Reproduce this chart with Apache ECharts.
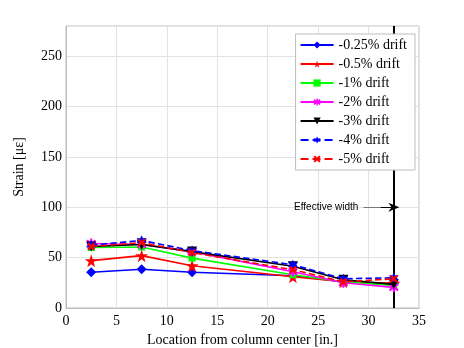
<!DOCTYPE html>
<html><head><meta charset="utf-8">
<script src="https://cdn.jsdelivr.net/npm/echarts@6/dist/echarts.min.js"></script>
<style>html,body{margin:0;padding:0;background:#fff}#c{width:464px;height:348px}</style>
</head><body><div id="c"></div>
<script>
const locations = [2.5, 7.5, 12.5, 22.5, 27.5, 32.5];
const drift025 = [35.5, 38.5, 35.5, 32, 26, 24];
const drift05 = [47, 52, 42, 31, 26, 24.5];
const drift1 = [60, 60.5, 49.5, 33, 26, 22.5];
const drift2 = [64, 63, 56, 36, 25, 20.5];
const drift3 = [61, 63, 56, 41.5, 28, 23.5];
const drift4 = [62.5, 67, 57, 43, 29, 30];
const drift5 = [61, 65, 55, 38, 26, 29];
const seriesNames = ['-0.25% drift','-0.5% drift','-1% drift','-2% drift','-3% drift','-4% drift','-5% drift'];
const xTicks = [0,5,10,15,20,25,30,35];
const yTicks = [0,50,100,150,200,250];
const effectiveWidthX = 32.5;
const effectiveLabelY = 100;

const STAR = 'path://M50,0 L61,35 L98,35 L68,57 L79,91 L50,70 L21,91 L32,57 L2,35 L39,35 Z';
const TRI_DOWN = 'path://M0,0 L10,0 L5,9 Z';
const XMARK = 'path://M0,2 L2,0 L5,3 L8,0 L10,2 L7,5 L10,8 L8,10 L5,7 L2,10 L0,8 L3,5 Z';
const ASTER = 'path://M4,0 L6,0 L6,3 L8.5,1 L10,2.5 L7,5 L10,7.5 L8.5,9 L6,7 L6,10 L4,10 L4,7 L1.5,9 L0,7.5 L3,5 L0,2.5 L1.5,1 L4,3 Z';
const HEX = 'path://M5,0 L6.3,2.8 L9.3,2.5 L7.6,5 L9.3,7.5 L6.3,7.2 L5,10 L3.7,7.2 L0.7,7.5 L2.4,5 L0.7,2.5 L3.7,2.8 Z';

const dataSets = [drift025, drift05, drift1, drift2, drift3, drift4, drift5];
const colors = ['#0000ff','#ff0000','#00ff00','#ff00ff','#000000','#0000ff','#ff0000'];
const symbols = ['diamond', STAR, 'rect', ASTER, TRI_DOWN, HEX, XMARK];
const sizes = [10, 13, 7, 10, 10, 10, 8];
const dashes = ['solid','solid','solid','solid','solid','dashed','dashed'];

const serif = 'Liberation Serif, Times New Roman, serif';

const series = dataSets.map((d, i) => ({
  name: seriesNames[i],
  type: 'line',
  data: d.map((v, j) => [locations[j], v]),
  symbol: symbols[i],
  symbolSize: sizes[i],
  showAllSymbol: true,
  z: 3 + i,
  itemStyle: { color: colors[i] },
  lineStyle: { color: colors[i], width: 1.6, type: dashes[i] },
  emphasis: { disabled: true },
  animation: false
}));

series.push({
  name: 'ew',
  type: 'line',
  data: [],
  z: 2,
  markLine: {
    silent: true,
    symbol: ['none','none'],
    animation: false,
    data: [
      { xAxis: effectiveWidthX, lineStyle: { color: '#000', width: 2, type: 'solid' }, label: { show: false } },
      [
        { coord: [29.5, effectiveLabelY], symbol: 'none', lineStyle: { color: '#777', width: 1, type: 'solid' } },
        { coord: [31.2, effectiveLabelY], symbol: 'none' }
      ],
      [
        { coord: [31.2, effectiveLabelY], symbol: 'none', lineStyle: { color: '#000', width: 1, type: 'solid' } },
        { coord: [effectiveWidthX, effectiveLabelY], symbol: 'path://M0,0 L5,10 L0,7 L-5,10 Z', symbolSize: [9, 11] }
      ]
    ],
    label: { show: false }
  },
  markPoint: {
    silent: true,
    animation: false,
    symbol: 'circle',
    symbolSize: 0,
    data: [{ coord: [25.8, effectiveLabelY], value: 'Effective width' }],
    label: { show: true, position: 'inside', formatter: 'Effective width', color: '#000', fontFamily: 'Liberation Sans, Arial, sans-serif', fontSize: 10 }
  }
});

const chart = echarts.init(document.getElementById('c'), null, { renderer: 'canvas' });
chart.setOption({
  animation: false,
  backgroundColor: '#fff',
  grid: { left: 66, right: 45, top: 26, bottom: 40, show: true, borderColor: '#bdbdbd', borderWidth: 1, containLabel: false, outerBoundsMode: 'none' },
  legend: {
    data: seriesNames,
    orient: 'vertical',
    right: 49,
    top: 34,
    itemWidth: 33,
    itemHeight: 9,
    itemGap: 5,
    padding: [4, 8, 4, 4],
    backgroundColor: '#fff',
    borderColor: '#bdbdbd',
    borderWidth: 1,
    borderRadius: 0,
    textStyle: { fontFamily: serif, fontSize: 14, color: '#000' },
    selectedMode: false,
    z: 20
  },
  xAxis: {
    type: 'value',
    min: xTicks[0],
    max: xTicks[xTicks.length - 1],
    interval: 5,
    name: 'Location from column center [in.]',
    nameLocation: 'middle',
    nameGap: 22,
    nameTextStyle: { fontFamily: serif, fontSize: 14, color: '#000' },
    axisLine: { show: true, lineStyle: { color: '#bdbdbd' } },
    axisTick: { show: false },
    axisLabel: { fontFamily: serif, fontSize: 14, color: '#000', margin: 6 },
    splitLine: { show: true, lineStyle: { color: '#e3e3e3', width: 1 } }
  },
  yAxis: {
    type: 'value',
    min: 0,
    max: 280,
    interval: 50,
    name: 'Strain [\u03bc\u03b5]',
    nameLocation: 'middle',
    nameGap: 40,
    nameTextStyle: { fontFamily: serif, fontSize: 14, color: '#000' },
    axisLine: { show: true, lineStyle: { color: '#bdbdbd' } },
    axisTick: { show: false },
    axisLabel: { fontFamily: serif, fontSize: 14, color: '#000', margin: 4,
      formatter: v => (yTicks.indexOf(v) >= 0 ? String(v) : '') },
    splitLine: { show: true, lineStyle: { color: '#e3e3e3', width: 1 } }
  },
  series: series
});
</script></body></html>
